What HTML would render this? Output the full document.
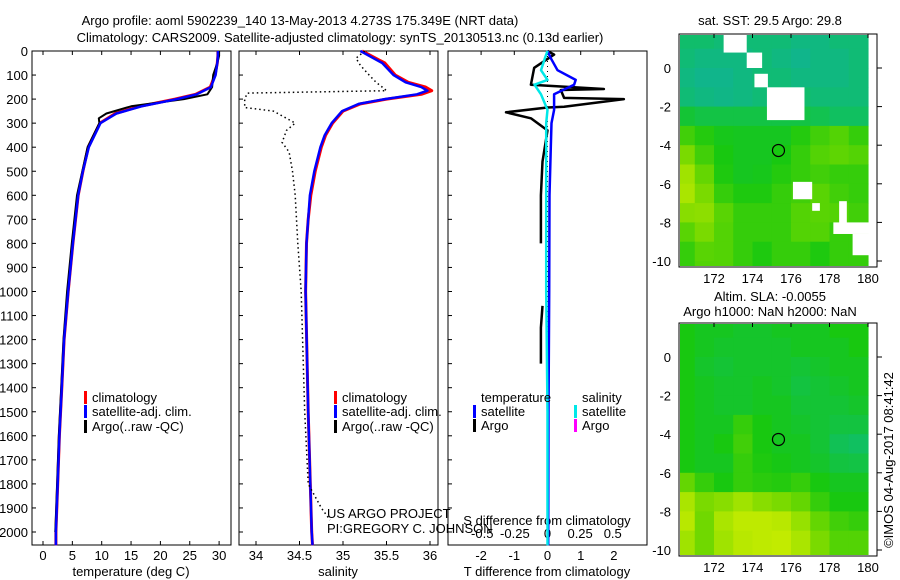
<!DOCTYPE html>
<html><head><meta charset="utf-8">
<style>
html,body{margin:0;padding:0;background:#fff;}
svg{display:block;font-family:"Liberation Sans",sans-serif;}
text{font-size:13px;fill:#000;}
</style></head>
<body>
<svg id="c" width="900" height="580" viewBox="0 0 900 580" xmlns="http://www.w3.org/2000/svg">
<text x="300" y="25" text-anchor="middle">Argo profile: aoml 5902239_140 13-May-2013 4.273S 175.349E (NRT data)</text>
<text x="340" y="42" text-anchor="middle">Climatology: CARS2009. Satellite-adjusted climatology: synTS_20130513.nc (0.13d earlier)</text>
<text x="770" y="25" text-anchor="middle">sat. SST: 29.5 Argo: 29.8</text>
<text x="770" y="301" text-anchor="middle">Altim. SLA: -0.0055</text>
<text x="770" y="316" text-anchor="middle">Argo h1000: NaN h2000: NaN</text>
<text transform="translate(893,460) rotate(-90)" text-anchor="middle">©IMOS 04-Aug-2017 08:41:42</text>
<g id="plots"></g>
</svg>
<script>
// ---- profile data ----
const tDepth = [0,20,50,100,150,180,200,230,260,300,400,500,600,800,1000,1200,1400,1600,1800,2000,2055];
const tClim  = [29.8,29.8,29.7,29.3,28.5,26,22.5,16.5,12.3,9.7,7.7,6.8,6,5.1,4.3,3.6,3.2,2.8,2.5,2.2,2.2];
const tSat   = [29.8,29.8,29.7,29.4,28.6,26.2,22.8,16.8,12.5,9.8,7.8,6.8,6,5.1,4.3,3.6,3.2,2.8,2.5,2.2,2.2];
const tArgoDepth = [0,20,50,100,150,180,200,230,260,280,300,400,500,600,800,1000,1200,1400,1600,1800,2000];
const tArgo  = [30,30,29.7,29,28.8,28,24,15,10.8,9.5,9.6,7.6,6.7,5.8,4.9,4.1,3.5,3.1,2.7,2.4,2.1];
const sDepth = [0,50,100,130,150,165,180,200,220,250,300,350,400,500,600,700,800,1000,1500,2000,2055];
const sClim  = [35.22,35.48,35.6,35.75,35.95,36.02,35.9,35.5,35.2,35.0,34.88,34.8,34.75,34.68,34.63,34.6,34.58,34.57,34.6,34.64,34.65];
const sSat   = [35.2,35.45,35.58,35.72,35.9,35.97,35.85,35.48,35.18,34.99,34.87,34.79,34.74,34.67,34.62,34.6,34.58,34.57,34.6,34.64,34.65];
const sArgoDepth = [0,30,60,100,130,150,165,175,200,235,250,280,300,330,380,420,500,600,800,1000,1500,1800,1900,1950];
const sArgo  = [35.25,35.15,35.2,35.3,35.38,35.45,35.5,33.9,33.87,33.87,34.2,34.35,34.45,34.35,34.3,34.38,34.42,34.45,34.48,34.52,34.56,34.6,34.75,34.85];
const dDepth = [0,30,80,120,140,180,245,300,400,600,1000,1500,2055];
const dTSat  = [0,0.1,0.3,0.85,0.8,0.2,0.2,0.12,0.1,0.06,0.05,0.03,0.02];
const dSSat  = [0,-0.02,-0.05,0,-0.1,-0.05,0,-0.01,-0.01,-0.01,-0.01,0,0];
const dArgoDepth = [0,15,70,140,158,162,195,200,232,235,255,280,330,460,600,800,null,1060,1150,1300];
const dTArgo = [0,0.2,-0.4,-0.5,1.7,0.4,0.5,2.3,0.5,0.0,-1.25,-0.5,0,-0.15,-0.2,-0.2,null,-0.15,-0.2,-0.2];
const depthTicks = [0,100,200,300,400,500,600,700,800,900,1000,1100,1200,1300,1400,1500,1600,1700,1800,1900,2000];
const tTicks = [0,5,10,15,20,25,30];
const sTicks = [34,34.5,35,35.5,36];
const dTTicks = [-2,-1,0,1,2];
const dSTicks = [-0.5,-0.25,0,0.25,0.5];
// ---- map data (values 0=teal .. 1=yellow), rows from lat 2 to -11, cols lon 170..180 ----
const sstGrid = [
[0.25,0.25,0.2,0.2,0.2,0.2,0.15,0.15,0.2,0.2],
[0.2,0.15,0.15,0.15,0.2,0.15,0.1,0.15,0.15,0.2],
[0.15,0.1,0.1,0.15,0.2,0.2,0.15,0.15,0.15,0.2],
[0.2,0.15,0.12,0.15,0.2,0.25,0.25,0.2,0.2,0.2],
[0.38,0.35,0.35,0.35,0.35,0.35,0.35,0.33,0.3,0.3],
[0.52,0.47,0.43,0.42,0.42,0.42,0.47,0.52,0.55,0.5],
[0.62,0.52,0.45,0.42,0.42,0.45,0.5,0.55,0.57,0.55],
[0.7,0.58,0.46,0.42,0.43,0.47,0.5,0.52,0.5,0.5],
[0.72,0.62,0.5,0.46,0.46,0.5,0.52,0.56,0.52,0.5],
[0.65,0.66,0.56,0.5,0.5,0.5,0.55,0.56,0.55,0.52],
[0.56,0.62,0.55,0.5,0.5,0.5,0.55,0.55,0.5,0.5],
[0.5,0.56,0.55,0.5,0.46,0.5,0.5,0.46,0.5,0.5],
[0.5,0.55,0.55,0.5,0.46,0.5,0.5,0.46,0.5,0.5]];
const slaGrid = [
[0.45,0.42,0.42,0.4,0.4,0.42,0.42,0.42,0.45,0.45],
[0.45,0.42,0.4,0.4,0.4,0.4,0.42,0.42,0.42,0.45],
[0.45,0.4,0.38,0.4,0.4,0.4,0.38,0.4,0.42,0.42],
[0.45,0.42,0.4,0.4,0.42,0.4,0.36,0.38,0.4,0.42],
[0.45,0.42,0.4,0.4,0.42,0.42,0.38,0.38,0.38,0.4],
[0.45,0.42,0.42,0.5,0.45,0.42,0.4,0.38,0.36,0.36],
[0.45,0.42,0.45,0.52,0.45,0.42,0.42,0.38,0.32,0.3],
[0.45,0.42,0.42,0.5,0.46,0.44,0.42,0.4,0.36,0.35],
[0.58,0.5,0.45,0.5,0.48,0.47,0.5,0.45,0.42,0.42],
[0.72,0.62,0.65,0.7,0.65,0.62,0.58,0.5,0.45,0.45],
[0.75,0.6,0.72,0.78,0.78,0.75,0.68,0.58,0.52,0.5],
[0.7,0.6,0.7,0.75,0.78,0.8,0.72,0.62,0.55,0.55],
[0.7,0.6,0.7,0.75,0.78,0.8,0.72,0.62,0.55,0.55]];
const landLon0 = [172.5,173.7,174.1,174.75,176.1,177.1,178.5,178.2,179.2];
const landLon1 = [173.7,174.5,174.8,176.7,177.1,177.5,178.9,180.2,180.2];
const landLat0 = [1.8,0.8,-0.3,-1.0,-5.9,-7.0,-6.9,-8.0,-8.6];
const landLat1 = [0.8,0.0,-1.0,-2.7,-6.8,-7.4,-8.5,-8.6,-9.7];
const argoLon = 175.349, argoLat = -4.273;
const mapLonTicks = [172,174,176,178,180];
const mapLatTicks = [0,-2,-4,-6,-8,-10];

const NS="http://www.w3.org/2000/svg";
const root=document.getElementById('plots');
function el(tag,attrs,parent){const e=document.createElementNS(NS,tag);for(const k in attrs)e.setAttribute(k,attrs[k]);(parent||root).appendChild(e);return e;}
function txt(s,x,y,anchor,parent){const t=el('text',{x:x,y:y,'text-anchor':anchor||'start'},parent);t.textContent=s;return t;}
const yD=d=>51+d*0.2405;
const xT=t=>43+t*5.87;
const xS=s=>256+(s-34)*87;
const xTd=v=>547.5+v*33.2;
const xSd=v=>547.5+v*130.5;
function pathFrom(depths,vals,fx){let p='',pen=false;for(let i=0;i<depths.length;i++){if(depths[i]===null||vals[i]===null){pen=false;continue;}p+=(pen?'L':'M')+fx(vals[i]).toFixed(1)+','+yD(depths[i]).toFixed(1);pen=true;}return p;}
function frame(x0,x1,name){
  const r=el('rect',{x:x0,y:51,width:x1-x0,height:494,fill:'none',stroke:'#000','stroke-width':1});
  
  
  depthTicks.forEach(d=>{el('line',{x1:x0,x2:x0+4,y1:yD(d),y2:yD(d),stroke:'#000'});});
}
function line(depths,vals,fx,color,w,name,dash){
  const p=el('path',{d:pathFrom(depths,vals,fx),fill:'none',stroke:color,'stroke-width':w,'stroke-linejoin':'round'});
  if(dash)p.setAttribute('stroke-dasharray',dash);
  
  
}
function legend(x,y,color,label,name){
  const g=el('g',{});
  
  
  el('rect',{x:x,y:y-11,width:3,height:13,fill:color},g);
  txt(label,x+8,y,'start',g);
}
// panel 1 temperature
frame(32,231,'temperature-panel');
depthTicks.forEach(d=>{const t=txt(String(d),28,yD(d)+5,'end');});
tTicks.forEach(v=>{el('line',{x1:xT(v),x2:xT(v),y1:51,y2:55,stroke:'#000'});el('line',{x1:xT(v),x2:xT(v),y1:545,y2:541,stroke:'#000'});txt(String(v),xT(v),560,'middle');});
txt('temperature (deg C)',131,576,'middle');
line(tDepth,tClim,xT,'#ff0000',3,'temp-climatology-line');
line(tArgoDepth,tArgo,xT,'#000',2,'temp-argo-line');
line(tDepth,tSat,xT,'#0000ff',2.5,'temp-satellite-line');
legend(84,402,'#ff0000','climatology','legend-climatology');
legend(84,416,'#0000ff','satellite-adj. clim.','legend-satellite');
legend(84,431,'#000','Argo(..raw -QC)','legend-argo');
// panel 2 salinity
frame(239,438,'salinity-panel');
sTicks.forEach(v=>{el('line',{x1:xS(v),x2:xS(v),y1:51,y2:55,stroke:'#000'});el('line',{x1:xS(v),x2:xS(v),y1:545,y2:541,stroke:'#000'});txt(String(v),xS(v),560,'middle');});
txt('salinity',338,576,'middle');
line(sDepth,sClim,xS,'#ff0000',3,'sal-climatology-line');
line(sDepth,sSat,xS,'#0000ff',2.5,'sal-satellite-line');
line(sArgoDepth,sArgo,xS,'#000',1.5,'sal-argo-line','1.5 3');
legend(334,402,'#ff0000','climatology','legend-climatology-2');
legend(334,416,'#0000ff','satellite-adj. clim.','legend-satellite-2');
legend(334,431,'#000','Argo(..raw -QC)','legend-argo-2');
txt('US ARGO PROJECT',327,518,'start');
txt('PI:GREGORY C. JOHNSON',327,533,'start');
// panel 3 differences
frame(448,647,'difference-panel');
dTTicks.forEach(v=>{el('line',{x1:xTd(v),x2:xTd(v),y1:51,y2:55,stroke:'#000'});txt(String(v),xTd(v),560,'middle');});
dSTicks.forEach(v=>{txt(String(v).replace('0.','0.'),xSd(v),538,'middle');});
txt('S difference from climatology',547,525,'middle');
txt('T difference from climatology',547,576,'middle');
el('line',{x1:547.5,x2:547.5,y1:51,y2:545,stroke:'#000','stroke-dasharray':'1 4'});
line(dArgoDepth,dTArgo,xTd,'#000',2.5,'tdiff-argo-line');
line(dDepth,dTSat,xTd,'#0000ff',2.5,'tdiff-satellite-line');
line(dDepth,dSSat,xSd,'#00e8e8',2.5,'sdiff-satellite-line');
txt('temperature',481,402,'start');txt('salinity',582,402,'start');
legend(473,416,'#0000ff','satellite','legend-t-satellite');
legend(473,430,'#000','Argo','legend-t-argo');
legend(574,416,'#00e8e8','satellite','legend-s-satellite');
legend(574,430,'#ff00ff','Argo','legend-s-argo');
// maps
const stops=[[0,[16,176,160]],[0.3,[16,192,96]],[0.45,[24,200,16]],[0.6,[112,216,0]],[0.75,[184,232,0]],[1,[232,248,0]]];
function col(v){for(let i=1;i<stops.length;i++){if(v<=stops[i][0]){const a=stops[i-1],b=stops[i],f=(v-a[0])/(b[0]-a[0]);const c=a[1].map((x,j)=>Math.round(x+(b[1][j]-x)*f));return 'rgb('+c.join(',')+')';}}return 'rgb(232,248,0)';}
const lonX=l=>714+(l-172)*19.25;
function map(grid,lat0y,top,bottom,name,land){
  const latY=l=>lat0y-l*19.3;
  const id='clip'+name;
  const cp=el('clipPath',{id:id});el('rect',{x:680,y:top,width:190,height:bottom-top},cp);
  const g=el('g',{'clip-path':'url(#'+id+')'});
  
  
  grid.forEach((row,r)=>row.forEach((v,c)=>{
    const cell=el('rect',{x:lonX(170+c),y:latY(2-r),width:19.8,height:19.8,fill:col(v)},g);
    
    
  }));
  if(land){landLon0.forEach((l0,i)=>{const x0=lonX(l0),x1=lonX(landLon1[i]),y0=latY(landLat0[i]),y1=latY(landLat1[i]);const lr=el('rect',{x:x0,y:y0,width:x1-x0,height:y1-y0,fill:'#fff'},g);});}
  const fr=el('rect',{x:679,y:top-1,width:198,height:bottom-top+2,fill:'none',stroke:'#000'});
  
  
  mapLonTicks.forEach(l=>{el('line',{x1:lonX(l),x2:lonX(l),y1:top-1,y2:top+3,stroke:'#000'});txt(String(l),lonX(l),bottom+17,'middle');});
  mapLatTicks.forEach(l=>{el('line',{x1:877,x2:882,y1:latY(l),y2:latY(l),stroke:'#000'});txt(String(l),671,latY(l)+5,'end');});
  const c=el('circle',{cx:lonX(argoLon),cy:latY(argoLat),r:6,fill:'none',stroke:'#000','stroke-width':1.2});
  
  
}
map(sstGrid,68,35,266,'sst-map',true);
map(slaGrid,357,324,555,'sla-map',false);
</script>
</body></html>
